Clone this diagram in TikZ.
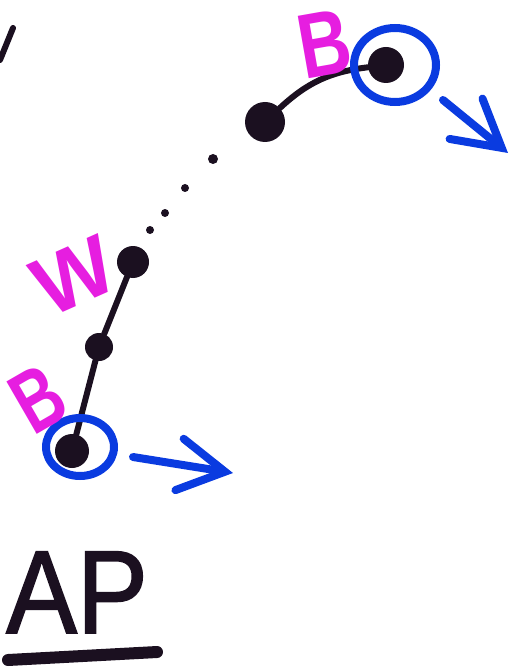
\documentclass[tikz,border=0pt]{standalone}
\usepackage{fontspec}
\setmainfont{Liberation Sans}
\usetikzlibrary{arrows.meta}
\definecolor{ink}{HTML}{1B1020}
\definecolor{marker}{HTML}{0A3BE0}
\definecolor{pinkish}{HTML}{E61EE0}
\tikzset{
  bead/.style={circle, fill=ink, inner sep=0pt, minimum size=#1},
  speck/.style={circle, fill=ink, inner sep=0pt, minimum size=8pt},
  rod/.style={draw=ink, line width=6pt, line cap=round},
  ring/.style={draw=marker, line width=8pt},
  push/.style={draw=marker, line width=8pt, line cap=round,
    -{Straight Barb[length=46pt, width=52pt, line cap=round]}},
  tag/.style={text=pinkish, font=\bfseries\fontsize{#1}{#1}\selectfont, inner sep=0pt},
}
\begin{document}
\begin{tikzpicture}[x=1pt, y=-1pt]
  \useasboundingbox (0,0) rectangle (516,668);

  % stray stroke at the top left
  \coordinate (s1) at (0,60);
  \coordinate (s2) at (13,28);
  \draw[rod] (s1) -- (s2);

  % beads of the chain
  \node[bead=34pt] (d1) at (72,451) {};
  \node[bead=28pt] (d2) at (99,347) {};
  \node[bead=32pt] (d3) at (133,262) {};
  \node[bead=40pt] (d4) at (265,122) {};
  \node[bead=36pt] (d5) at (386,65) {};

  % dotted gap of the chain
  \node[speck] (p1) at (150,230) {};
  \node[speck] (p2) at (165,213) {};
  \node[speck] (p3) at (185,188) {};
  \node[speck, minimum size=10pt] (p4) at (213,159) {};

  % bonds
  \draw[rod] (d1) -- (d2);
  \draw[rod] (d2) -- (d3);
  \draw[rod] (d4) to[bend left=18] (d5);

  % end markers
  \draw[ring] (80,447) ellipse [x radius=34pt, y radius=29pt];
  \draw[ring] (395,65) ellipse [x radius=41pt, y radius=37pt];
  \node[inner sep=0pt] (r1) at (80,447) {};
  \node[inner sep=0pt] (r2) at (395,65) {};

  % motion arrows
  \coordinate (a1s) at (133,457);
  \coordinate (a1e) at (233,473);
  \coordinate (a2s) at (443,100);
  \coordinate (a2e) at (508,153);
  \draw[push] (a1s) -- (a1e);
  \draw[push] (a2s) -- (a2e);

  % labels
  \node[tag=92, rotate=10, xscale=0.78] (lb2) at (325,44) {B};
  \node[tag=84, rotate=24] (lw) at (74,276) {W};
  \node[tag=88, rotate=30, xscale=0.72] (lb1) at (38,399) {B};

  % caption
  \node[text=ink, font=\fontsize{118}{118}\selectfont\addfontfeature{FakeBold=1.5},
        inner sep=0pt, anchor=base west, xscale=0.9] (cap) at (6,633) {AP};
  \coordinate (u1) at (8,660);
  \coordinate (u2) at (157,652);
  \draw[draw=ink, line width=12pt, line cap=round] (u1) -- (u2);
\end{tikzpicture}
\end{document}
